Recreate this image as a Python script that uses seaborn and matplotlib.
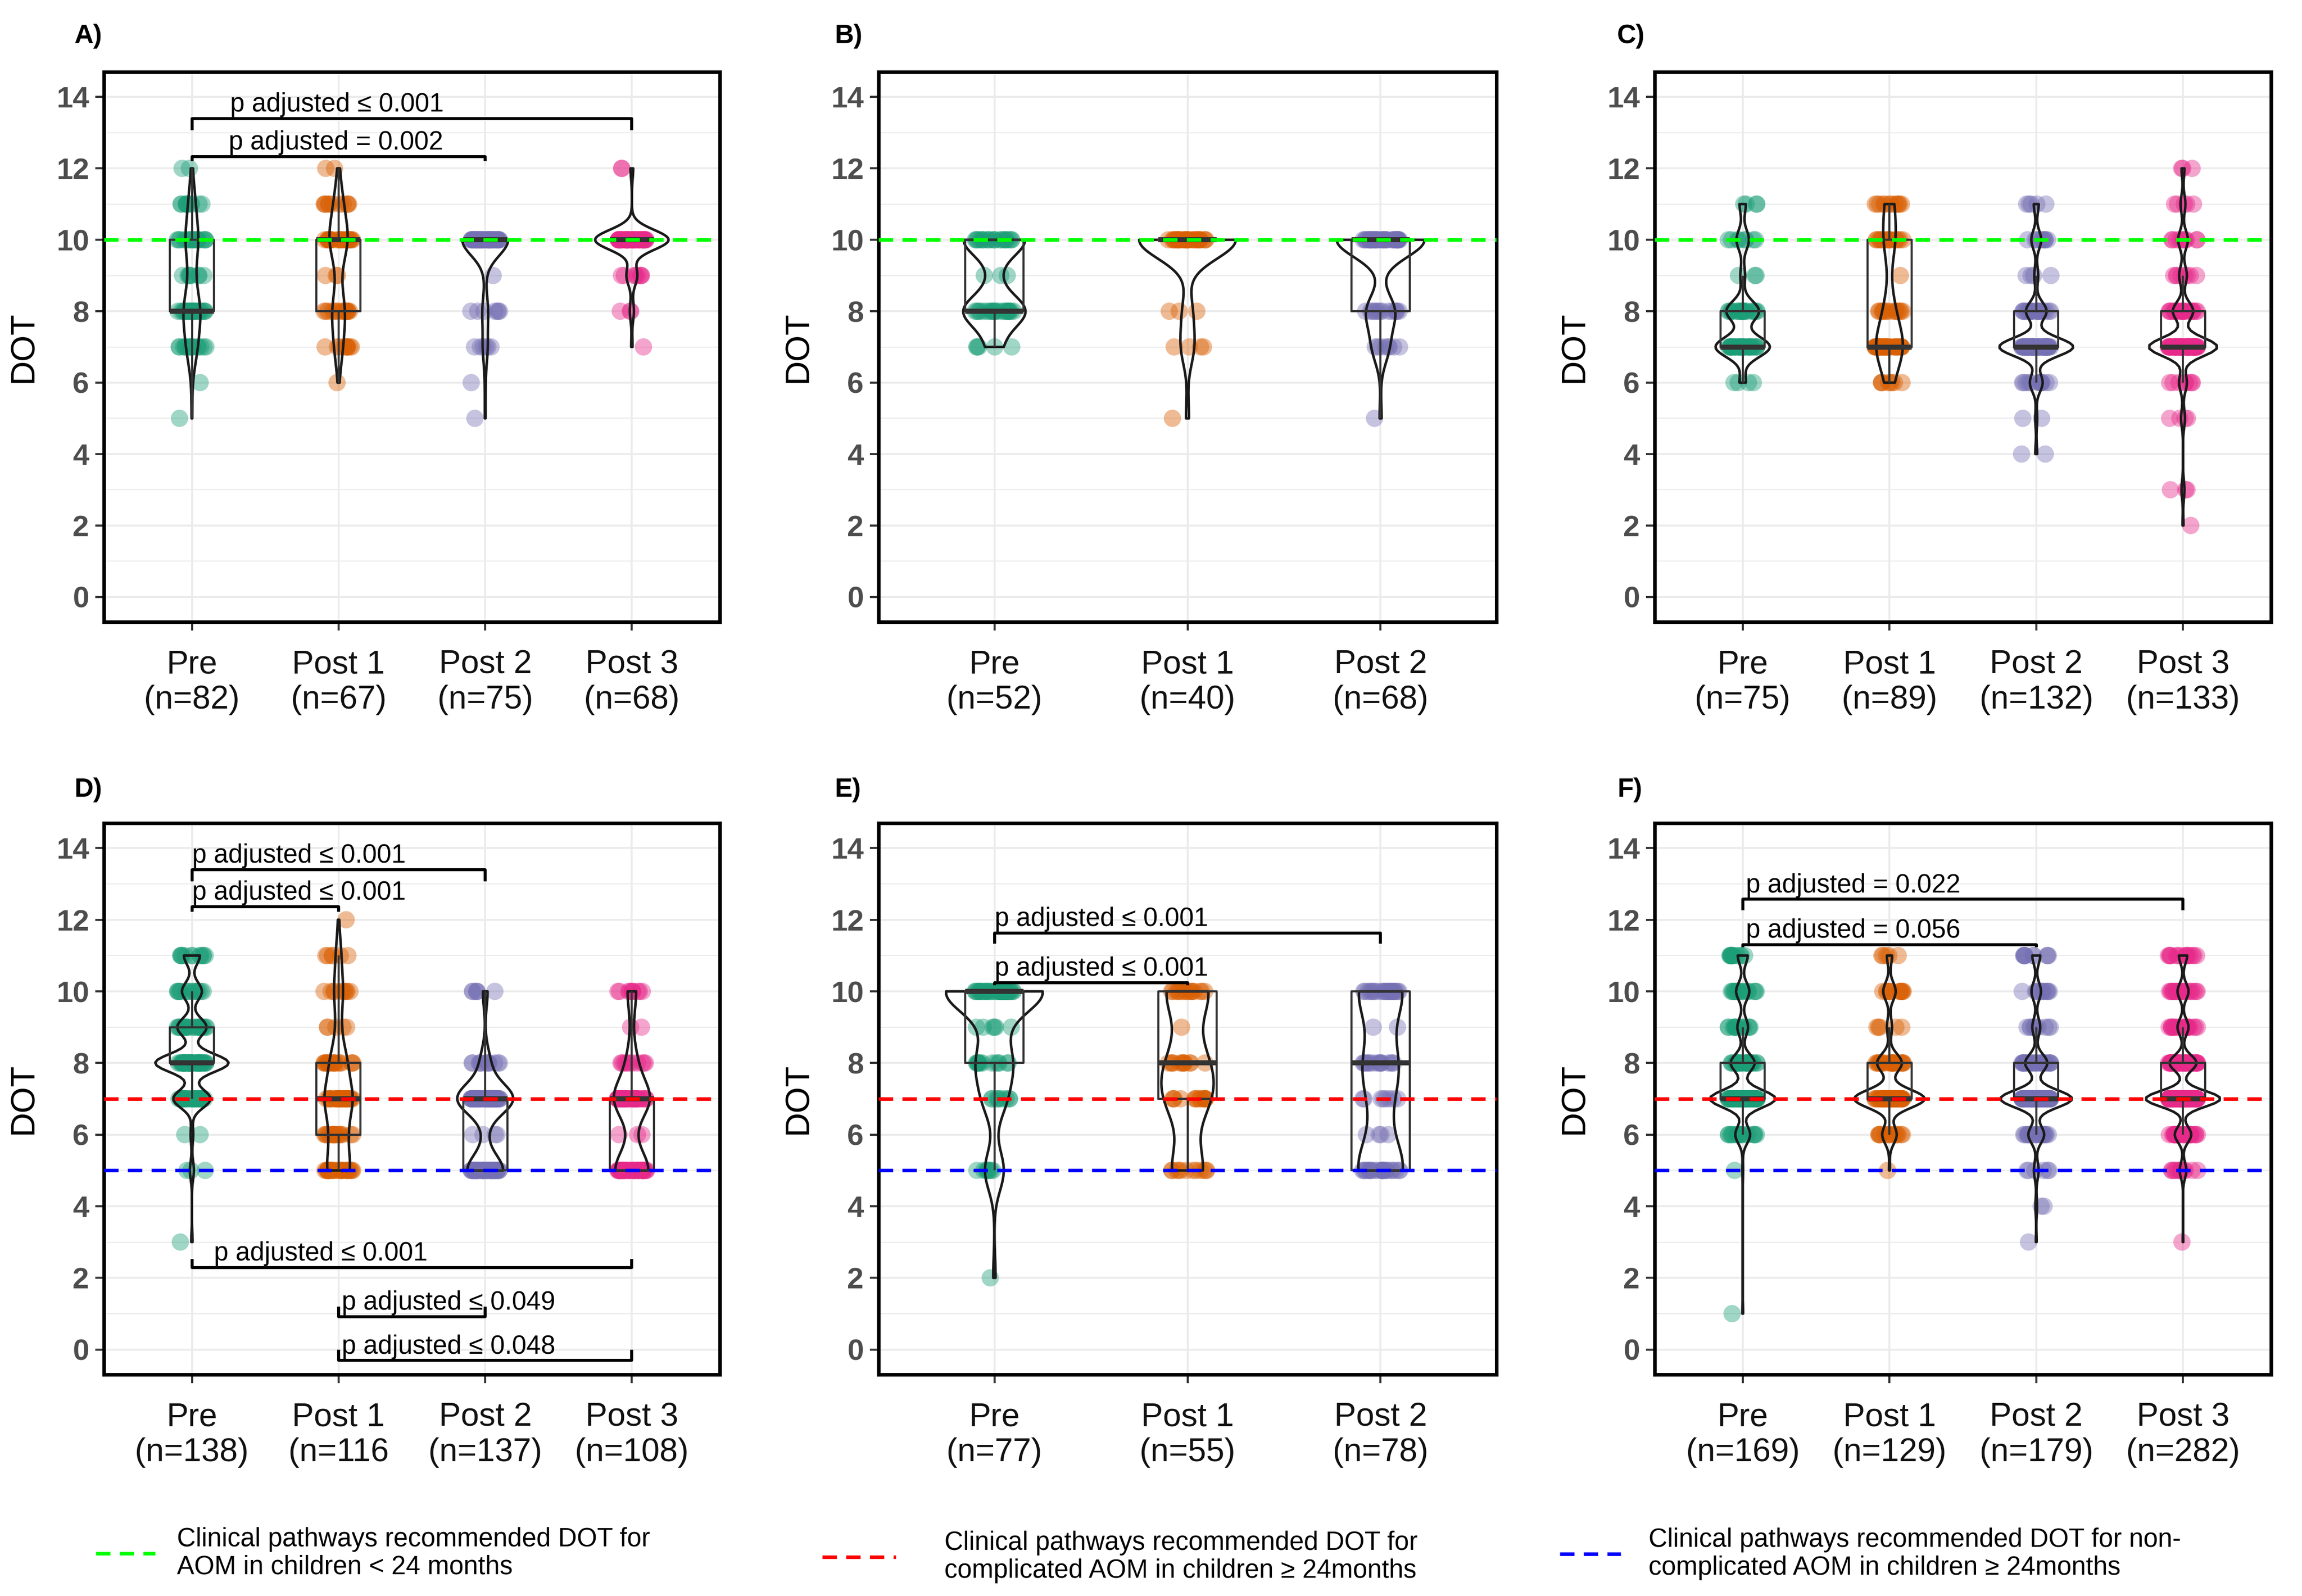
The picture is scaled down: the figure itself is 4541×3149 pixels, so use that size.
import numpy as np
import pandas as pd
import matplotlib
matplotlib.use("Agg")
import matplotlib.pyplot as plt
from matplotlib.lines import Line2D
from matplotlib.ticker import MultipleLocator
import seaborn as sns

sns.set_theme(style="white")
plt.rcParams["font.family"] = ["Liberation Sans", "DejaVu Sans"]

np.random.seed(7)

# ---------------- data ----------------
DOT_LEVELS = [1, 2, 3, 4, 5, 6, 7, 8, 9, 10, 11, 12]
GROUP_COLORS = ["#1B9E77", "#D95F02", "#7570B3", "#E7298A"]

# Panel A
A_groups = ["Pre", "Post 1", "Post 2", "Post 3"]
A_labels = ["Pre\n(n=82)", "Post 1\n(n=67)", "Post 2\n(n=75)", "Post 3\n(n=68)"]
A_pre = [0, 0, 0, 0, 1, 1, 16, 25, 8, 19, 10, 2]
A_post1 = [0, 0, 0, 0, 0, 1, 10, 16, 3, 24, 11, 2]
A_post2 = [0, 0, 0, 0, 1, 1, 6, 7, 1, 59, 0, 0]
A_post3 = [0, 0, 0, 0, 0, 0, 1, 3, 8, 54, 0, 2]

# Panel B
B_groups = ["Pre", "Post 1", "Post 2"]
B_labels = ["Pre\n(n=52)", "Post 1\n(n=40)", "Post 2\n(n=68)"]
B_pre = [0, 0, 0, 0, 0, 0, 5, 22, 3, 22, 0, 0]
B_post1 = [0, 0, 0, 0, 1, 0, 4, 3, 0, 32, 0, 0]
B_post2 = [0, 0, 0, 0, 1, 0, 8, 14, 0, 45, 0, 0]

# Panel C
C_groups = ["Pre", "Post 1", "Post 2", "Post 3"]
C_labels = ["Pre\n(n=75)", "Post 1\n(n=89)", "Post 2\n(n=132)", "Post 3\n(n=133)"]
C_pre = [0, 0, 0, 0, 0, 4, 35, 21, 3, 8, 4, 0]
C_post1 = [0, 0, 0, 0, 0, 8, 38, 14, 1, 16, 12, 0]
C_post2 = [0, 0, 0, 2, 2, 13, 75, 21, 4, 10, 5, 0]
C_post3 = [0, 1, 3, 0, 4, 8, 70, 21, 8, 10, 5, 3]

# Panel D
D_groups = ["Pre", "Post 1", "Post 2", "Post 3"]
D_labels = ["Pre\n(n=138)", "Post 1\n(n=116", "Post 2\n(n=137)", "Post 3\n(n=108)"]
D_pre = [0, 0, 1, 0, 3, 2, 28, 55, 22, 15, 12, 0]
D_post1 = [0, 0, 0, 0, 26, 18, 31, 19, 5, 10, 6, 1]
D_post2 = [0, 0, 0, 0, 45, 4, 70, 12, 0, 6, 0, 0]
D_post3 = [0, 0, 0, 0, 40, 3, 42, 11, 2, 10, 0, 0]

# Panel E
E_groups = ["Pre", "Post 1", "Post 2"]
E_labels = ["Pre\n(n=77)", "Post 1\n(n=55)", "Post 2\n(n=78)"]
E_pre = [0, 1, 0, 0, 8, 0, 9, 13, 6, 40, 0, 0]
E_post1 = [0, 0, 0, 0, 12, 0, 14, 12, 1, 16, 0, 0]
E_post2 = [0, 0, 0, 0, 24, 4, 8, 16, 2, 24, 0, 0]

# Panel F
F_groups = ["Pre", "Post 1", "Post 2", "Post 3"]
F_labels = ["Pre\n(n=169)", "Post 1\n(n=129)", "Post 2\n(n=179)", "Post 3\n(n=282)"]
F_pre = [1, 0, 0, 0, 1, 18, 79, 29, 13, 16, 12, 0]
F_post1 = [0, 0, 0, 0, 1, 14, 68, 24, 5, 12, 5, 0]
F_post2 = [0, 0, 1, 2, 6, 20, 90, 28, 10, 12, 10, 0]
F_post3 = [0, 0, 1, 0, 12, 30, 135, 49, 20, 20, 15, 0]

# recommended DOT reference lines per panel
A_ref = [10]
B_ref = [10]
C_ref = [10]
D_ref = [7, 5]
E_ref = [7, 5]
F_ref = [7, 5]
REF_COLORS = {10: "#00FF00", 7: "#FF0000", 5: "#0000FF"}

# pairwise comparisons: (group 1, group 2, bracket level, tip, label, label start)
A_tests = [("Pre", "Post 3", 13.40, -0.33, "p adjusted \u2264 0.001", 1.26),
           ("Pre", "Post 2", 12.33, -0.13, "p adjusted = 0.002", 1.25)]
D_tests = [("Pre", "Post 2", 13.40, -0.33, "p adjusted \u2264 0.001", 1.00),
           ("Pre", "Post 1", 12.36, -0.13, "p adjusted \u2264 0.001", 1.00),
           ("Pre", "Post 3", 2.29, 0.24, "p adjusted \u2264 0.001", 1.15),
           ("Post 1", "Post 2", 0.91, 0.29, "p adjusted \u2264 0.049", 2.02),
           ("Post 1", "Post 3", -0.31, 0.31, "p adjusted \u2264 0.048", 2.02)]
E_tests = [("Pre", "Post 2", 11.63, -0.30, "p adjusted \u2264 0.001", 1.00),
           ("Pre", "Post 1", 10.24, -0.07, "p adjusted \u2264 0.001", 1.00)]
F_tests = [("Pre", "Post 3", 12.57, -0.30, "p adjusted = 0.022", 1.02),
           ("Pre", "Post 2", 11.31, -0.08, "p adjusted = 0.056", 1.02)]

LEGEND_TEXT = [
    "Clinical pathways recommended DOT for\nAOM in children < 24 months",
    "Clinical pathways recommended DOT for\ncomplicated AOM in children \u2265 24months",
    "Clinical pathways recommended DOT for non-\ncomplicated AOM in children \u2265 24months",
]

panels = [
    ("A)", A_groups, A_labels, [A_pre, A_post1, A_post2, A_post3], A_ref, A_tests),
    ("B)", B_groups, B_labels, [B_pre, B_post1, B_post2], B_ref, []),
    ("C)", C_groups, C_labels, [C_pre, C_post1, C_post2, C_post3], C_ref, []),
    ("D)", D_groups, D_labels, [D_pre, D_post1, D_post2, D_post3], D_ref, D_tests),
    ("E)", E_groups, E_labels, [E_pre, E_post1, E_post2], E_ref, E_tests),
    ("F)", F_groups, F_labels, [F_pre, F_post1, F_post2, F_post3], F_ref, F_tests),
]


def nrd0(kde):
    """R's bw.nrd0 expressed as a gaussian_kde factor."""
    x = np.asarray(kde.dataset).ravel()
    sd = x.std(ddof=1)
    q75, q25 = np.percentile(x, [75, 25])
    lo = min(sd, (q75 - q25) / 1.34)
    if lo <= 0:
        lo = sd
    bw = 0.9 * lo * len(x) ** -0.2
    return bw / sd


# ---------------- layout ----------------
W, H = 4541, 3149
fig = plt.figure(figsize=(W / 300, H / 300), dpi=300)

col_px = [(205, 1420), (1733, 2952), (3264, 4480)]
row_px = [(142, 1227), (1624, 2712)]
label_px = [(147, 85), (1646, 85), (3190, 85), (147, 1572), (1646, 1572), (3190, 1572)]

DASH = (0, (4.0, 2.6))

for i, (tag, groups, labels, counts, refs, tests) in enumerate(panels):
    r, c = divmod(i, 3)
    x0, x1 = col_px[c]
    y0, y1 = row_px[r]
    ax = fig.add_axes([x0 / W, 1 - y1 / H, (x1 - x0) / W, (y1 - y0) / H])

    rows = []
    for g, cnt in zip(groups, counts):
        vals = np.repeat(DOT_LEVELS, cnt)
        rows.append(pd.DataFrame({"group": g, "DOT": vals}))
    df = pd.concat(rows, ignore_index=True)
    pal = GROUP_COLORS[:len(groups)]

    n0 = len(ax.collections)
    sns.stripplot(data=df, x="group", y="DOT", order=groups, hue="group",
                  hue_order=groups, palette=pal, jitter=0.1, size=8.2,
                  alpha=0.42, linewidth=0, legend=False, ax=ax)
    for art in ax.collections[n0:]:
        art.set_zorder(2)

    n_c, n_l, n_p = len(ax.collections), len(ax.lines), len(ax.patches)
    sns.violinplot(data=df, x="group", y="DOT", order=groups, color="#1a1a1a",
                   fill=False, inner=None, cut=0, density_norm="area",
                   width=0.5, linewidth=1.2, bw_method=nrd0, ax=ax)
    for art in ax.collections[n_c:] + ax.lines[n_l:] + ax.patches[n_p:]:
        art.set_zorder(3)

    n_c, n_l, n_p = len(ax.collections), len(ax.lines), len(ax.patches)
    sns.boxplot(data=df, x="group", y="DOT", order=groups, color="#333333",
                fill=False, width=0.3, linewidth=1.0, showfliers=False,
                showcaps=False, medianprops=dict(linewidth=2.4, color="#333333"),
                ax=ax)
    for art in ax.collections[n_c:] + ax.lines[n_l:] + ax.patches[n_p:]:
        art.set_zorder(4)

    for ref in refs:
        ax.axhline(ref, color=REF_COLORS[ref], lw=1.7, ls=DASH, zorder=5)

    for g1, g2, yb, tip, txt, tx in tests:
        xa, xb = groups.index(g1), groups.index(g2)
        ax.plot([xa, xa, xb, xb], [yb + tip, yb, yb, yb + tip], color="black",
                lw=1.4, zorder=6, solid_capstyle="butt")
        ax.text(tx - 1, yb + 0.04, txt, ha="left", va="bottom", fontsize=12.3,
                color="black", zorder=7)

    ax.set_xlim(-0.6, len(groups) - 0.4)
    ax.set_ylim(-0.7, 14.7)
    ax.set_yticks(range(0, 15, 2))
    ax.yaxis.set_minor_locator(MultipleLocator(1))
    ax.set_xticks(range(len(groups)))
    ax.set_xticklabels(labels, fontsize=15.5, color="#111111")
    for lab in ax.get_yticklabels():
        lab.set_fontweight("bold")
    ax.tick_params(axis="y", labelsize=14, labelcolor="#4D4D4D", length=4,
                   width=1.0, color="#333333", pad=3, left=True)
    ax.tick_params(axis="x", length=4, width=1.0, color="#333333", pad=9,
                   bottom=True)
    ax.tick_params(which="minor", length=0)
    ax.set_axisbelow(True)
    ax.grid(True, which="major", color="#EBEBEB", lw=0.9)
    ax.grid(True, which="minor", axis="y", color="#EBEBEB", lw=0.5)
    ax.set_xlabel("")
    ax.set_ylabel("DOT", fontsize=16, color="black", labelpad=8)
    for sp in ax.spines.values():
        sp.set_visible(True)
        sp.set_color("black")
        sp.set_linewidth(1.7)

    lx, ly = label_px[i]
    fig.text(lx / W, 1 - ly / H, tag, fontsize=12.5, fontweight="bold",
             ha="left", va="baseline", color="black")

# ---------------- bottom legend ----------------
legend_items = [
    (10, (189, 306), 3065, 349),
    (7, (1622, 1767), 3072, 1863),
    (5, (3077, 3197), 3066, 3252),
]
for (ref, (lx0, lx1), ly, tx), txt in zip(legend_items, LEGEND_TEXT):
    fig.add_artist(Line2D([lx0 / W, lx1 / W], [1 - ly / H, 1 - ly / H],
                          color=REF_COLORS[ref], lw=1.7, ls=DASH,
                          transform=fig.transFigure))
    fig.text(tx / W, 1 - ly / H, txt, fontsize=12.3, ha="left", va="center",
             color="black", linespacing=1.15)

fig.savefig("out.png", dpi=300)
